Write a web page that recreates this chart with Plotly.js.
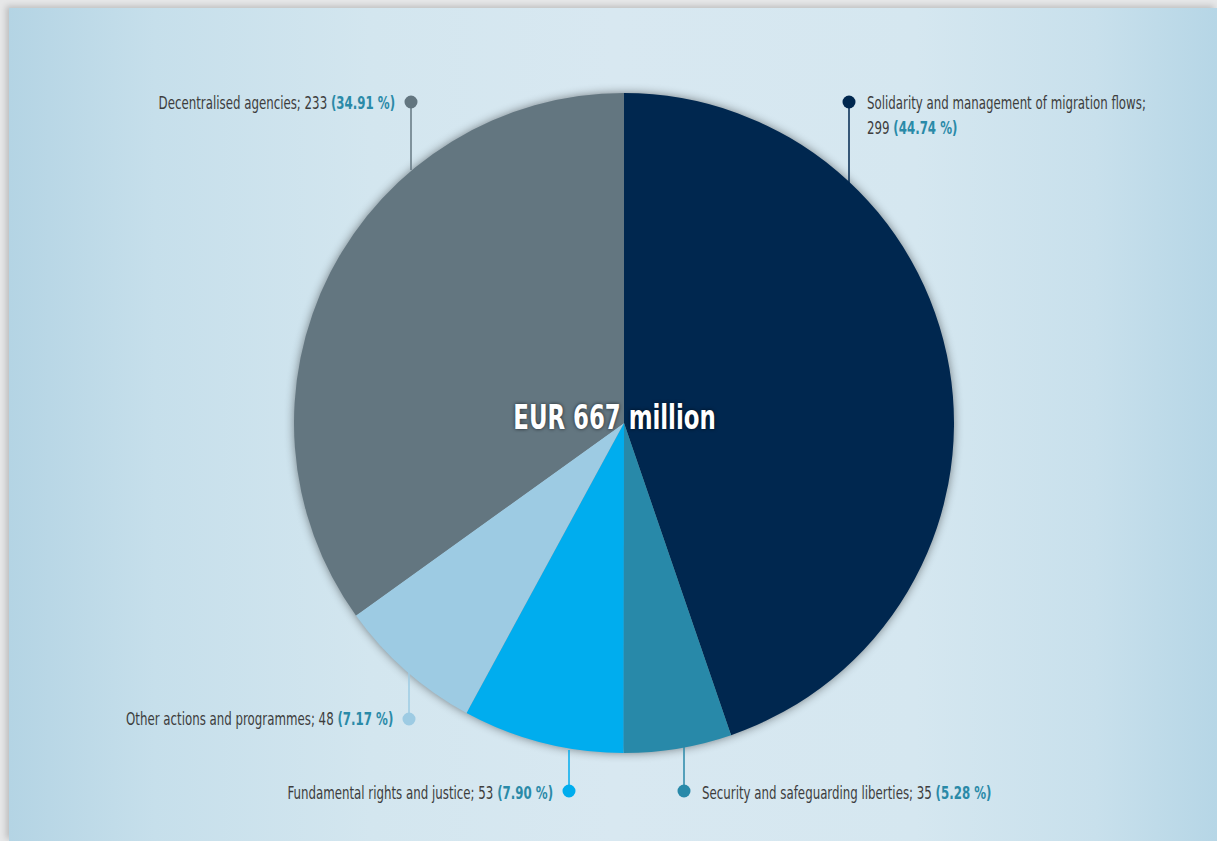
<!DOCTYPE html>
<html>
<head>
<meta charset="utf-8">
<script src="https://cdn.plot.ly/plotly-3.0.1.min.js"></script>
<style>
  html, body { margin:0; padding:0; width:1217px; height:841px; overflow:hidden; background:#e6e7e8; }
  #bg { position:absolute; left:9px; top:8px; width:1208px; height:833px;
        background: linear-gradient(to right, #b4d4e4 0%, #c6dfeb 12%, #d3e6ef 30%, #d8e8f1 50%, #d5e7f0 75%, #c8e0ec 90%, #b6d6e6 100%);
        box-shadow: -3px -2px 6px rgba(0,0,0,0.18); }
  #chart { position:absolute; left:0; top:0; width:1217px; height:841px; }
  #chart .pielayer { filter: drop-shadow(0px 0px 5px rgba(0,0,0,0.45)); }
</style>
</head>
<body>
<div id="bg"></div>
<div id="chart"></div>
<script>
const categories = [
  "Solidarity and management of migration flows",
  "Security and safeguarding liberties",
  "Fundamental rights and justice",
  "Other actions and programmes",
  "Decentralised agencies"
];
const amounts = [299, 35, 53, 48, 233];
const percents = [44.74, 5.28, 7.90, 7.17, 34.91];
const percentLabels = ["44.74 %", "5.28 %", "7.90 %", "7.17 %", "34.91 %"];
const colors = ["#00274f", "#2889a9", "#00adee", "#9dcbe3", "#637680"];
const centerLabel = "EUR 667 million";

const W = 1217, H = 841;
const px = x => x / W;
const py = y => 1 - y / H;

const cx = 624, cy = 423, r = 330;
const FONT = "'Liberation Sans Narrow', 'DejaVu Sans Condensed', 'DejaVu Sans', sans-serif";
const textCol = "#3d3d3d";
const pctCol = "#2a8aa8";
const LABEL_SIZE = 18;
const LABEL_SCALE = 0.73;
const CENTER_SCALE = 0.77;

const pie = {
  type: "pie",
  values: percents,
  labels: categories,
  sort: false,
  direction: "clockwise",
  rotation: 0,
  marker: { colors: colors, line: { width: 0 } },
  textinfo: "none",
  hoverinfo: "label+value",
  domain: { x: [px(cx - r), px(cx + r)], y: [py(cy + r), py(cy - r)] },
  showlegend: false
};

// label geometry: [dotX, dotY, lineEndY, textX, textY, anchor]
const geo = [
  [849, 102, 184, 865, 103, "left"],
  [684, 791, 745, 700, 792, "left"],
  [569, 791, 750, 555, 792, "right"],
  [409, 719, 672, 395, 718, "right"],
  [411, 102, 170, 397, 103, "right"]
];

const shapes = [];
const annotations = [];
geo.forEach((g, i) => {
  const [dx, dy, ly, tx, ty, anc] = g;
  shapes.push({ type: "line", xref: "paper", yref: "paper",
    x0: px(dx), x1: px(dx), y0: py(dy), y1: py(ly),
    line: { color: colors[i], width: 1.5 } });
  shapes.push({ type: "circle", xref: "paper", yref: "paper",
    x0: px(dx - 6.5), x1: px(dx + 6.5), y0: py(dy + 6.5), y1: py(dy - 6.5),
    fillcolor: colors[i], line: { width: 0 } });
  const pct = "<b><span style='color:" + pctCol + "'>(" + percentLabels[i] + ")</span></b>";
  if (i === 0) {
    annotations.push({ xref: "paper", yref: "paper", x: px(tx), y: py(ty),
      xanchor: "left", yanchor: "middle", showarrow: false,
      text: categories[i] + ";", font: { family: FONT, size: LABEL_SIZE, color: textCol } });
    annotations.push({ xref: "paper", yref: "paper", x: px(tx), y: py(ty + 25),
      xanchor: "left", yanchor: "middle", showarrow: false,
      text: amounts[i] + " " + pct, font: { family: FONT, size: LABEL_SIZE, color: textCol } });
  } else {
    annotations.push({ xref: "paper", yref: "paper", x: px(tx), y: py(ty),
      xanchor: anc, yanchor: "middle", showarrow: false,
      text: categories[i] + "; " + amounts[i] + " " + pct,
      font: { family: FONT, size: LABEL_SIZE, color: textCol } });
  }
});

annotations.push({ xref: "paper", yref: "paper", x: px(cx - 10), y: py(cy - 6),
  xanchor: "center", yanchor: "middle", showarrow: false,
  text: "<b>" + centerLabel + "</b>",
  font: { family: FONT, size: 33, color: "#ffffff", shadow: "0px 0px 4px rgba(0,0,0,0.7)" } });

const anchors = ["left", "left", "left", "right", "right", "right", "center"];

const layout = {
  width: W, height: H,
  margin: { l: 0, r: 0, t: 0, b: 0 },
  paper_bgcolor: "rgba(0,0,0,0)",
  plot_bgcolor: "rgba(0,0,0,0)",
  shapes: shapes,
  annotations: annotations,
  showlegend: false
};

Plotly.newPlot("chart", [pie], layout, { displayModeBar: false, staticPlot: true }).then(gd => {
  // condense the label text horizontally (the original uses a condensed typeface)
  const texts = gd.querySelectorAll("g.annotation text.annotation-text");
  texts.forEach((t, i) => {
    const bb = t.getBBox();
    const a = anchors[i] || "left";
    const s = a === "center" ? CENTER_SCALE : LABEL_SCALE;
    const ox = a === "left" ? bb.x : a === "right" ? bb.x + bb.width : bb.x + bb.width / 2;
    t.setAttribute("transform", "translate(" + ox + ",0) scale(" + s + ",1) translate(" + (-ox) + ",0)");
  });
});
</script>
</body>
</html>
